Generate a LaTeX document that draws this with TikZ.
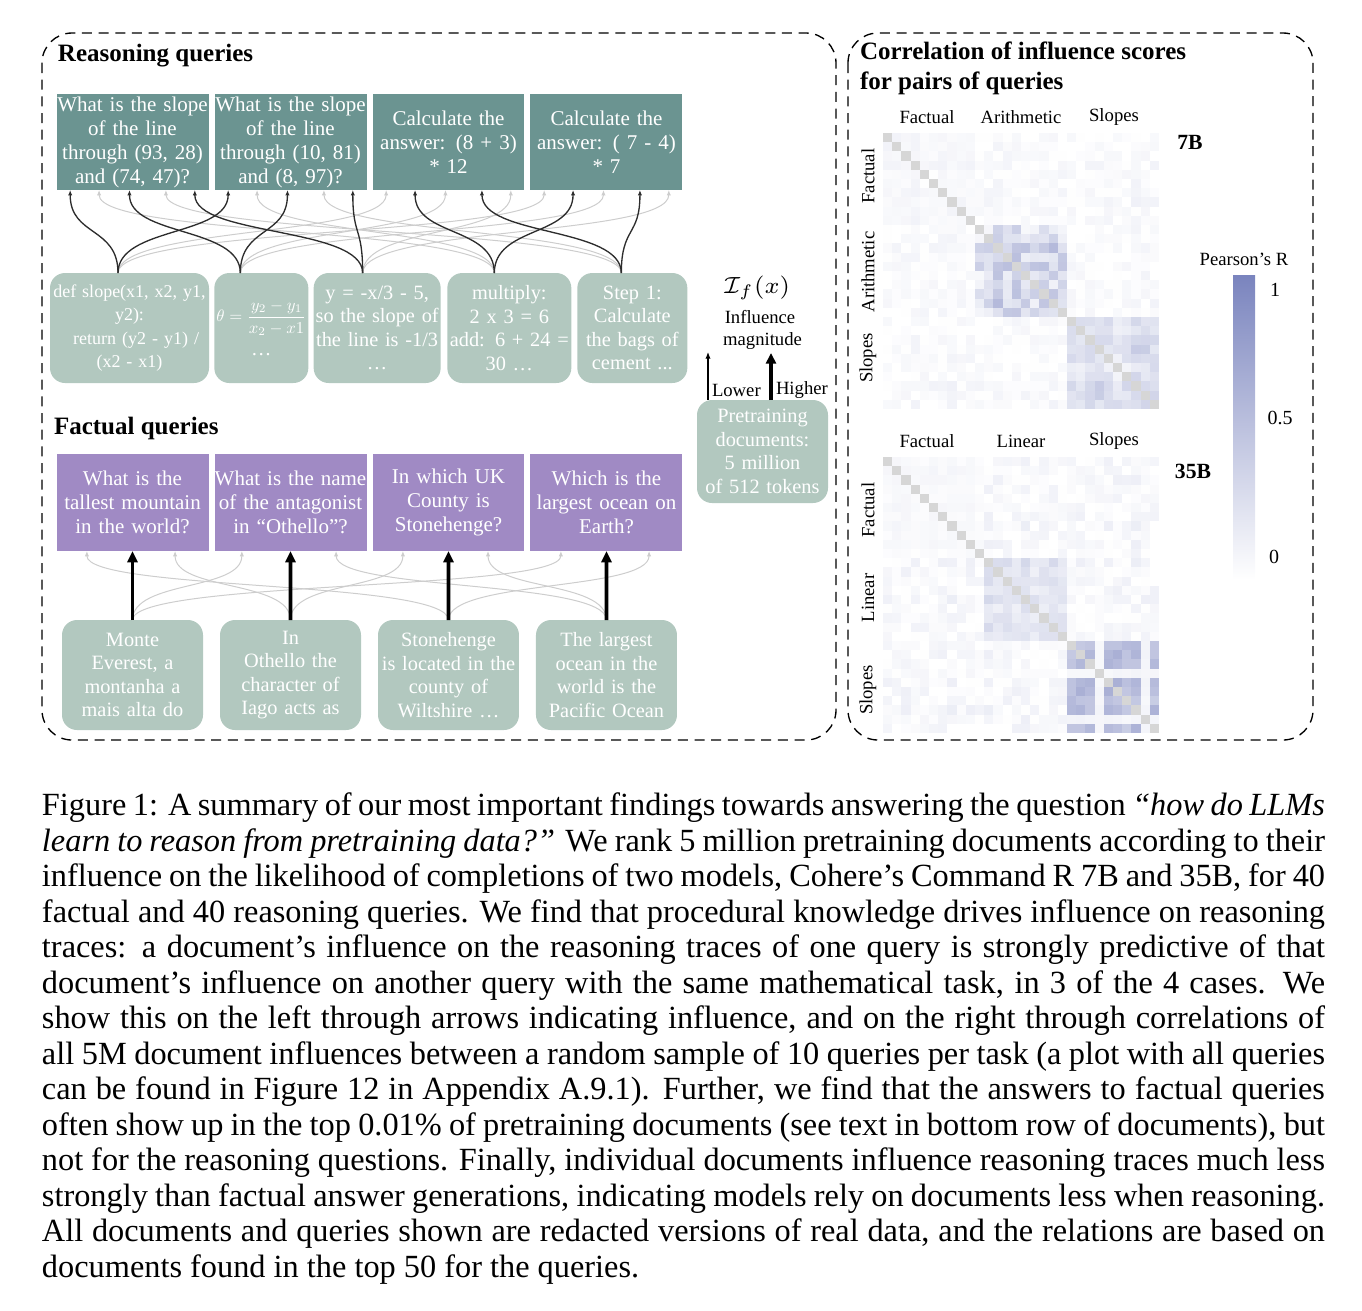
\documentclass[tikz,border=0pt]{standalone}
\usepackage{fontspec}
\setmainfont{Liberation Serif}
\usepackage{amsmath}
\usepackage{graphicx}
\usepackage{xcolor}
\usepackage{tikz}
\usetikzlibrary{calc}
\usetikzlibrary{positioning}
\usetikzlibrary{arrows.meta}
\definecolor{querygreen}{RGB}{107,148,145}
\definecolor{docgreen}{RGB}{178,200,191}
\definecolor{querypurple}{RGB}{160,138,196}
\definecolor{heat}{RGB}{122,132,190}
\definecolor{diaggrey}{RGB}{214,214,214}
\definecolor{softgrey}{RGB}{205,205,205}
\definecolor{darklink}{RGB}{45,45,45}

\begin{document}
\begin{tikzpicture}[x=0.3pt, y=-0.3pt]

                \useasboundingbox (0,0) rectangle (1362,1310);

                % Styles of the boxes and of the arrows
                \tikzset{
                  query/.style={fill=querygreen, text=white, text width=45.6pt,
                    minimum height=28.8pt, inner sep=0pt, outer sep=0pt,
                    align=center, font=\fontsize{6.3}{7.2}\selectfont},
                  fquery/.style={query, fill=querypurple, minimum height=29.1pt},
                  doc/.style={fill=docgreen, text=white, text width=#1,
                    minimum height=33pt, inner sep=0.5pt, outer sep=0pt,
                    rounded corners=4.5pt, align=center,
                    font=\fontsize{6.1}{7.05}\selectfont},
                  txt/.style={inner sep=0pt, outer sep=0pt},
                  head/.style={txt, anchor=west, font=\bfseries\fontsize{7.5}{9}\selectfont},
                  small/.style={txt, font=\fontsize{5.6}{6.6}\selectfont},
                  panel/.style={dash pattern=on 3pt off 2pt, line width=0.4pt,
                    rounded corners=9pt},
                  softlink/.style={draw=softgrey, line width=0.3pt,
                    -{Latex[length=1.6pt,width=1.3pt]}},
                  darklink/.style={draw=darklink, line width=0.4pt,
                    -{Latex[length=1.6pt,width=1.3pt]}},
                  strong/.style={line width=1.1pt, -{Triangle[length=3.4pt,width=3pt]}}
                }

                % Dashed panels
                \draw[panel] (42,33) rectangle (836,740);
                \draw[panel] (848,33) rectangle (1313,740);

                % Reasoning queries and documents
                \node[head] (rhead) at (58,56) {Reasoning queries};

                \node[query] (q1) at (132.5,142)
                {What is the slope\\of the line\\through (93, 28)\\and (74, 47)?};
                \node[query] (q2) [right=1.8pt of q1]
                {What is the slope\\of the line\\through (10, 81)\\and (8, 97)?};
                \node[query] (q3) [right=1.8pt of q2]
                {Calculate the\\answer: (8 + 3)\\{*} 12};
                \node[query] (q4) [right=1.8pt of q3]
                {Calculate the\\answer: ( 7 - 4)\\{*} 7};

                \node[doc=46.7pt, font=\fontsize{5.4}{7.05}\selectfont] (d1) at (129.5,328)
                {def slope(x1, x2, y1,\\y2):\\\hspace*{4pt}return (y2 - y1) /\\(x2 - x1)};
                \node[doc=27.2pt] (d2) [right=1.6pt of d1]
                {\makebox[0pt]{\fontsize{10}{12}\selectfont\scalebox{0.5}{$\theta=\dfrac{y_2-y_1}{x_2-x1}$}}\\[3pt]\ldots};
                \node[doc=37.1pt] (d3) [right=1.6pt of d2]
                {y = -x/3 - 5,\\so the slope of\\the line is -1/3\\\ldots};
                \node[doc=36.2pt] (d4) [right=2pt of d3]
                {multiply:\\2 x 3 = 6\\add: 6 + 24 =\\30 \ldots};
                \node[doc=32pt] (d5) [right=1.8pt of d4]
                {Step 1:\\Calculate\\the bags of\\cement ...};

                \coordinate (s1) at ($(d1.north)+(-11.5,0)$);
                \coordinate (s2) at ($(d2.north)+(-21,0)$);
                \coordinate (s3) at ($(d3.north)+(-14.5,0)$);
                \coordinate (s4) at ($(d4.north)+(-15,0)$);
                \coordinate (s5) at ($(d5.north)+(-11,0)$);

                \begin{scope}[softlink]
                    \foreach \q/\d/\f in {1/4/0.28, 1/5/0.72, 2/4/0.28, 2/5/0.72,
                      3/1/0.09, 3/2/0.48, 3/3/0.91, 4/1/0.09, 4/2/0.48, 4/3/0.91}
                      \draw (s\d) to[out=90, in=-90, distance=14pt]
                        ($(q\q.south west)!\f!(q\q.south east)$);
                \end{scope}
                \begin{scope}[darklink]
                    \foreach \q/\d/\f in {1/1/0.09, 1/2/0.48, 1/3/0.91, 2/1/0.09,
                      2/2/0.48, 2/3/0.91, 3/4/0.28, 3/5/0.72, 4/4/0.28, 4/5/0.72}
                      \draw (s\d) to[out=90, in=-90, distance=14pt]
                        ($(q\q.south west)!\f!(q\q.south east)$);
                \end{scope}

                % Factual queries and documents
                \node[head] (fhead) at (54,428) {Factual queries};

                \node[fquery] (f1) at (132.5,502.5)
                {What is the\\tallest mountain\\in the world?};
                \node[fquery] (f2) [right=1.8pt of f1]
                {What is the name\\of the antagonist\\in “Othello”?};
                \node[fquery] (f3) [right=1.8pt of f2]
                {In which UK\\County is\\Stonehenge?};
                \node[fquery] (f4) [right=1.8pt of f3]
                {Which is the\\largest ocean on\\Earth?};

                \node[doc=41.3pt] (fd1) at (132.5,675)
                {Monte\\Everest, a\\montanha a\\mais alta do};
                \node[doc=41.3pt] (fd2) [right=5.1pt of fd1]
                {In\\Othello the\\character of\\Iago acts as};
                \node[doc=41.3pt] (fd3) [right=5.1pt of fd2]
                {Stonehenge\\is located in the\\county of\\Wiltshire \ldots};
                \node[doc=41.3pt] (fd4) [right=5.1pt of fd3]
                {The largest\\ocean in the\\world is the\\Pacific Ocean};

                \begin{scope}[softlink]
                    \foreach \q/\d/\f in {1/3/0.2, 1/2/0.78, 2/1/0.18, 2/4/0.8,
                      3/2/0.2, 3/4/0.76, 4/1/0.2, 4/3/0.78}
                      \draw (fd\d.north) to[out=90, in=-90, distance=12pt]
                        ($(f\q.south west)!\f!(f\q.south east)$);
                \end{scope}
                \foreach \k in {1,...,4}
                    \draw[strong] (fd\k.north) -- (f\k.south);

                % Influence magnitude
                \node[doc=38.3pt, minimum height=30.9pt] (pre) at (762.5,451.5)
                {Pretraining\\documents:\\5 million\\of 512 tokens};
                \node[txt, font=\fontsize{7}{8}\selectfont] (ifx) at (757,288) {$\mathcal{I}_f(x)$};
                \node[small, align=center] (infl) at (760,330) {Influence\\\hspace*{1.5pt}magnitude};
                \coordinate (lowtip) at (708,352);
                \coordinate (hightip) at (771,353);
                \draw[line width=0.35pt, -{Latex[length=2pt,width=1.6pt]}]
                    (pre.north -| lowtip) -- (lowtip);
                \draw[line width=1.1pt, -{Triangle[length=3.2pt,width=3pt]}]
                    (pre.north -| hightip) -- (hightip);
                \node[small, anchor=west] (lower) at (712,390) {Lower};
                \node[small, anchor=west] (higher) at (776,390) {Higher};

                % Correlation panel
                \node[head, align=left, font=\bfseries\fontsize{7.5}{9}\selectfont] (chead) at (860,68)
                {Correlation of influence scores\\for pairs of queries};

                % 7B heat map
                \foreach \row in {0,...,29}{
                  \foreach \col in {0,...,29}{
                    \pgfmathtruncatemacro\brow{(\row>9)+(\row>19)}
                    \pgfmathtruncatemacro\bcol{(\col>9)+(\col>19)}
                    \pgfmathsetmacro\wrow{mod(abs(sin(\row*71.7+13))*513,1)}
                    \pgfmathsetmacro\wcol{mod(abs(sin(\col*71.7+13))*513,1)}
                    \pgfmathsetmacro\noise{mod(abs(sin((\row+\col)*47.3+\row*\col*13.1))*977,1)}
                    \pgfmathsetmacro\mixv{0.25*(\wrow+\wcol)+0.5*\noise}
                    \pgfmathtruncatemacro\same{\brow==\bcol}
                    \pgfmathtruncatemacro\shadev{(1-\same)*13*\mixv*\noise
                      +\same*((\brow==0)*13*\mixv+(\brow==1)*(2+82*\mixv*\mixv)+(\brow==2)*(4+40*\mixv))}
                    \ifnum\row=\col
                      \fill[diaggrey] ({883+\col*9.2},{133+\row*9.2}) rectangle +(9.25,9.25);
                    \else
                      \fill[heat!\shadev!white] ({883+\col*9.2},{133+\row*9.2}) rectangle +(9.25,9.25);
                    \fi
                  }
                }

                % 35B heat map
                \foreach \row in {0,...,29}{
                  \foreach \col in {0,...,29}{
                    \pgfmathtruncatemacro\brow{(\row>10)+(\row>19)}
                    \pgfmathtruncatemacro\bcol{(\col>10)+(\col>19)}
                    \pgfmathsetmacro\wrow{mod(abs(sin(\row*53.3+7))*611,1)}
                    \pgfmathsetmacro\wcol{mod(abs(sin(\col*53.3+7))*611,1)}
                    \pgfmathsetmacro\noise{mod(abs(sin((\row+\col)*31.7+\row*\col*11.3))*883,1)}
                    \pgfmathsetmacro\mixv{0.3*(\wrow+\wcol)+0.4*\noise}
                    \pgfmathsetmacro\mask{1-0.85*min(1,(\row==23)+(\row==28)+(\col==23)+(\col==28))}
                    \pgfmathtruncatemacro\same{\brow==\bcol}
                    \pgfmathtruncatemacro\shadev{(1-\same)*16*\mixv*\noise
                      +\same*((\brow==0)*10*\mixv+(\brow==1)*(3+32*\mixv)+(\brow==2)*(30+42*\mixv)*\mask)}
                    \ifnum\row=\col
                      \fill[diaggrey] ({883+\col*9.2},{457+\row*9.2}) rectangle +(9.25,9.25);
                    \else
                      \fill[heat!\shadev!white] ({883+\col*9.2},{457+\row*9.2}) rectangle +(9.25,9.25);
                    \fi
                  }
                }

                % Axis names of the heat maps
                \begin{scope}[small]
                    \node (t7a) at (927,117) {Factual};
                    \node (t7b) at (1021,117) {Arithmetic};
                    \node (t7c) at (1114,117) {Slopes};
                    \node[rotate=90] (l7a) at (868,176) {Factual};
                    \node[rotate=90] (l7b) at (868,272) {Arithmetic};
                    \node[rotate=90] (l7c) at (868,358) {Slopes};
                    \node (t35a) at (927,441) {Factual};
                    \node (t35b) at (1021,441) {Linear};
                    \node (t35c) at (1114,441) {Slopes};
                    \node[rotate=90] (l35a) at (868,510) {Factual};
                    \node[rotate=90] (l35b) at (868,598) {Linear};
                    \node[rotate=90] (l35c) at (868,690) {Slopes};
                \end{scope}
                \node[txt, font=\bfseries\fontsize{6.5}{7.5}\selectfont] (m7) at (1190,142) {7B};
                \node[txt, font=\bfseries\fontsize{6.5}{7.5}\selectfont] (m35) at (1193,471) {35B};

                % Colour bar
                \shade[top color=heat, bottom color=white] (1233,275) rectangle (1255,580);
                \node[small] (rname) at (1244,259) {Pearson’s R};
                \begin{scope}[txt, font=\fontsize{6}{7}\selectfont]
                    \node (tick1) at (1275,290) {1};
                    \node (tick5) at (1280,418) {0.5};
                    \node (tick0) at (1274,557) {0};
                \end{scope}

                % Caption
                \node[txt, anchor=north west, text width=384.9pt, align=justify,
                      font=\fontsize{9.7}{10.65}\selectfont] (caption) at (42,793)
                {Figure 1: A summary of our most important findings towards answering the question \textit{``how do LLMs\linebreak
                learn to reason from pretraining data?''} We rank 5 million pretraining documents according to their\linebreak
                influence on the likelihood of completions of two models, Cohere's Command R 7B and 35B, for 40\linebreak
                factual and 40 reasoning queries. We find that procedural knowledge drives influence on reasoning\linebreak
                traces: a document's influence on the reasoning traces of one query is strongly predictive of that\linebreak
                document's influence on another query with the same mathematical task, in 3 of the 4 cases. We\linebreak
                show this on the left through arrows indicating influence, and on the right through correlations of\linebreak
                all 5M document influences between a random sample of 10 queries per task (a plot with all queries\linebreak
                can be found in Figure 12 in Appendix A.9.1). Further, we find that the answers to factual queries\linebreak
                often show up in the top 0.01\% of pretraining documents (see text in bottom row of documents), but\linebreak
                not for the reasoning questions. Finally, individual documents influence reasoning traces much less\linebreak
                strongly than factual answer generations, indicating models rely on documents less when reasoning.\linebreak
                All documents and queries shown are redacted versions of real data, and the relations are based on\linebreak
                documents found in the top 50 for the queries.};

\end{tikzpicture}
\end{document}
